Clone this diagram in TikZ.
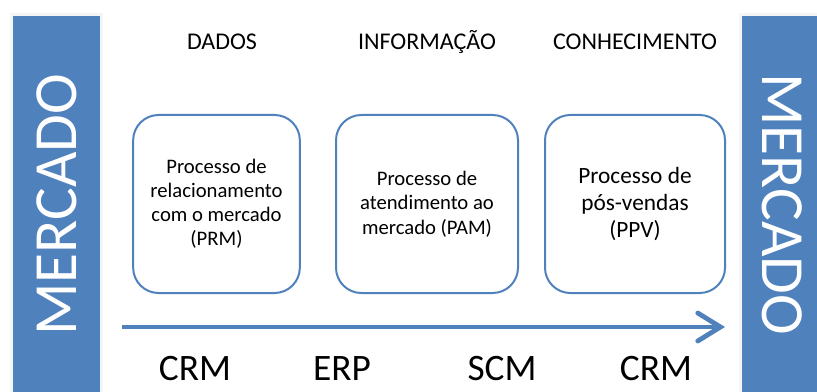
\documentclass[tikz,border=0pt]{standalone}
\usepackage{fontspec}
\setmainfont{Carlito}
\usetikzlibrary{arrows.meta}
\definecolor{barblue}{HTML}{4F81BD}
\tikzset{
	bar/.style={fill=barblue},
	bartext/.style={text=white, font=\fontsize{46}{46}\selectfont},
	procbox/.style={draw=barblue, line width=1.5pt, rounded corners=19pt, align=center, inner sep=0pt},
	phase/.style={font=\fontsize{18}{20}\selectfont},
	system/.style={font=\fontsize{28}{30}\selectfont}
}

\begin{document}
\begin{tikzpicture}[x=0.75pt, y=-0.75pt]
		%%%%% START %%%%%
		
		\useasboundingbox (0, 0) rectangle (817, 392);
		
		\fill[black!4] (10, 13) rectangle (103, 392);
		\fill[black!4] (739, 13) rectangle (817, 392);
		\fill[bar] (13, 16) rectangle (100, 392);
		\fill[bar] (742, 16) rectangle (817, 392);
		\node[bartext, rotate=90] (mktleft) at (57, 205) {MERCADO};
		\node[bartext, rotate=-90] (mktright) at (782, 204) {MERCADO};
		
		\node[phase] (dados) at (222, 42) {DADOS};
		\node[phase] (info) at (427, 42) {INFORMAÇÃO};
		\node[phase] (conhec) at (635, 42) {CONHECIMENTO};
		
		\node[procbox, minimum width=125pt, minimum height=133.5pt, font=\fontsize{15.5}{18}\selectfont] (prm) at (216.5, 204) {Processo de\\relacionamento\\com o mercado\\(PRM)};
		\node[procbox, minimum width=136.5pt, minimum height=133.5pt, font=\fontsize{15.5}{18.5}\selectfont] (pam) at (427, 204) {Processo de\\atendimento ao\\mercado (PAM)};
		\node[procbox, minimum width=135pt, minimum height=133.5pt, font=\fontsize{17.5}{20.5}\selectfont] (ppv) at (635, 204) {Processo de\\pós-vendas\\(PPV)};
		
		\coordinate (flowstart) at (122, 327);
		\coordinate (flowend) at (725, 327);
		\draw[barblue, line width=3.6pt, -{Straight Barb[length=17pt, width=21pt, line cap=round]}] (flowstart) -- (flowend);
		
		\node[system] (crma) at (195, 369) {CRM};
		\node[system] (erp) at (342, 369) {ERP};
		\node[system] (scm) at (502, 369) {SCM};
		\node[system] (crmb) at (656, 369) {CRM};
		
		%%%%% END %%%%%
	\end{tikzpicture}
\end{document}
